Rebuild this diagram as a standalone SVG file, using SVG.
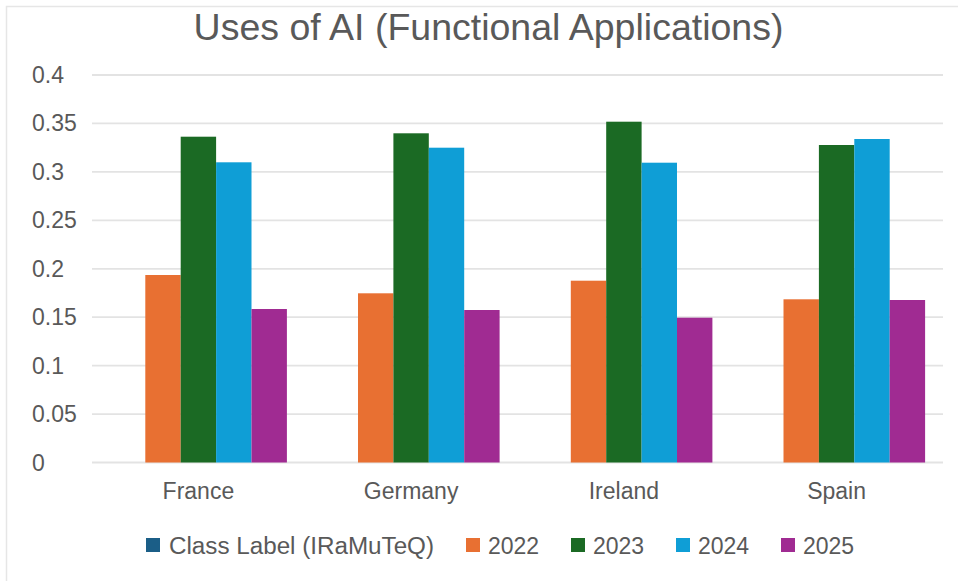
<svg xmlns="http://www.w3.org/2000/svg" width="958" height="581" viewBox="0 0 958 581">
  <style>
    text { font-family: "Liberation Sans", Arial, sans-serif; fill: #595959; }
    .title { font-size: 37.5px; text-anchor: middle; }
    .tick { font-size: 23px; }
    .cat { font-size: 23px; text-anchor: middle; }
    .leg { font-size: 23px; }
    .grid { stroke: #e3e3e3; stroke-width: 1.8; }
    .s0 { fill: #1b5e87; }
    .s1 { fill: #e87032; }
    .s2 { fill: #1b6a24; }
    .s3 { fill: #0f9ed6; }
    .s4 { fill: #a02b92; }
  </style>

  <!-- chart area background and frame -->
  <rect x="0" y="0" width="958" height="581" fill="#ffffff"/>
  <path d="M6.5,581 V6.5 H958" fill="none" stroke="#e6e6e6" stroke-width="1.5"/>

  <text class="title" x="488.5" y="40">Uses of AI (Functional Applications)</text>

  <!-- value axis: gridlines and tick labels -->
  <g id="value-axis">
    <line class="grid" x1="92" y1="75" x2="943" y2="75"/>
    <line class="grid" x1="92" y1="123.4" x2="943" y2="123.4"/>
    <line class="grid" x1="92" y1="171.9" x2="943" y2="171.9"/>
    <line class="grid" x1="92" y1="220.3" x2="943" y2="220.3"/>
    <line class="grid" x1="92" y1="268.8" x2="943" y2="268.8"/>
    <line class="grid" x1="92" y1="317.2" x2="943" y2="317.2"/>
    <line class="grid" x1="92" y1="365.6" x2="943" y2="365.6"/>
    <line class="grid" x1="92" y1="414.1" x2="943" y2="414.1"/>
    <line class="grid" x1="92" y1="462.5" x2="943" y2="462.5"/>
    <text class="tick" x="32" y="83">0.4</text>
    <text class="tick" x="32" y="131.4">0.35</text>
    <text class="tick" x="32" y="179.9">0.3</text>
    <text class="tick" x="32" y="228.3">0.25</text>
    <text class="tick" x="32" y="276.8">0.2</text>
    <text class="tick" x="32" y="325.2">0.15</text>
    <text class="tick" x="32" y="373.6">0.1</text>
    <text class="tick" x="32" y="422.1">0.05</text>
    <text class="tick" x="32" y="470.5">0</text>
  </g>

  <!-- bars: one group per country -->
  <g id="france">
    <rect class="s1" x="145.3" y="275" width="35.4" height="187.5"/>
    <rect class="s2" x="180.7" y="136.7" width="35.4" height="325.8"/>
    <rect class="s3" x="216.1" y="162.3" width="35.4" height="300.2"/>
    <rect class="s4" x="251.5" y="309" width="35.4" height="153.5"/>
    <text class="cat" x="198.4" y="498.5">France</text>
  </g>
  <g id="germany">
    <rect class="s1" x="358" y="293.3" width="35.4" height="169.2"/>
    <rect class="s2" x="393.4" y="133.3" width="35.4" height="329.2"/>
    <rect class="s3" x="428.8" y="147.7" width="35.4" height="314.8"/>
    <rect class="s4" x="464.2" y="310" width="35.4" height="152.5"/>
    <text class="cat" x="411.1" y="498.5">Germany</text>
  </g>
  <g id="ireland">
    <rect class="s1" x="570.8" y="280.7" width="35.4" height="181.8"/>
    <rect class="s2" x="606.2" y="121.7" width="35.4" height="340.8"/>
    <rect class="s3" x="641.6" y="162.7" width="35.4" height="299.8"/>
    <rect class="s4" x="677" y="317.7" width="35.4" height="144.8"/>
    <text class="cat" x="623.9" y="498.5">Ireland</text>
  </g>
  <g id="spain">
    <rect class="s1" x="783.5" y="299.3" width="35.4" height="163.2"/>
    <rect class="s2" x="818.9" y="145" width="35.4" height="317.5"/>
    <rect class="s3" x="854.3" y="139" width="35.4" height="323.5"/>
    <rect class="s4" x="889.7" y="300" width="35.4" height="162.5"/>
    <text class="cat" x="836.6" y="498.5">Spain</text>
  </g>

  <!-- legend -->
  <g id="legend">
    <rect class="s0" x="146" y="538" width="14" height="14"/>
    <text class="leg" x="169" y="553.5" textLength="265" lengthAdjust="spacingAndGlyphs">Class Label (IRaMuTeQ)</text>
    <rect class="s1" x="466" y="538" width="14" height="14"/>
    <text class="leg" x="488" y="553.5">2022</text>
    <rect class="s2" x="571" y="538" width="14" height="14"/>
    <text class="leg" x="593" y="553.5">2023</text>
    <rect class="s3" x="676" y="538" width="14" height="14"/>
    <text class="leg" x="698" y="553.5">2024</text>
    <rect class="s4" x="781" y="538" width="14" height="14"/>
    <text class="leg" x="803" y="553.5">2025</text>
  </g>
</svg>
